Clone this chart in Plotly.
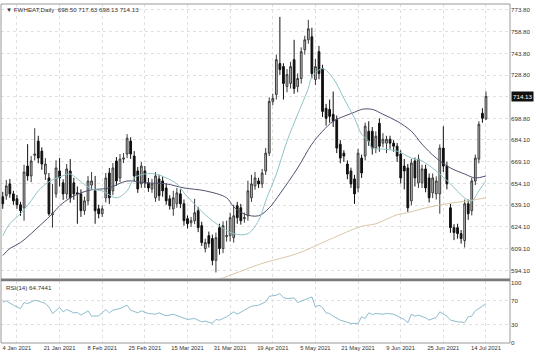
import plotly.graph_objects as go

# ---------------- data ----------------
bars = list(range(-4, 133))  # trading-day index, 0 = 4 Jan 2021

opens = [644.9, 645.6, 653.8, 646.9, 643.5, 639.4, 637.3, 666.1, 659.3, 673.5,
         683.3, 676.4, 660.6, 657.9, 632.5, 646.9, 662.7, 654.5, 646.9, 662.7,
         654.5, 647.6, 646.9, 635.3, 642.1, 653.0, 649.0, 636.6, 633.2, 644.2,
         661.3, 649.0, 669.6, 657.9, 670.9, 674.4, 683.3, 673.0, 662.7, 653.8,
         662.7, 654.5, 650.3, 644.2, 657.2, 655.8, 651.0, 643.5, 636.6, 640.1,
         646.9, 640.1, 629.8, 627.0, 628.4, 635.3, 625.0, 609.2, 618.1, 616.1,
         601.0, 623.6, 609.2, 617.4, 618.1, 616.7, 638.7, 637.3, 629.8, 631.8,
         644.2, 652.4, 655.8, 653.8, 662.7, 675.0, 710.7, 715.5, 736.8, 734.7,
         721.0, 723.1, 739.5, 721.0, 726.5, 746.4, 753.2, 755.3, 725.8, 745.0,
         733.3, 705.9, 705.2, 701.8, 698.4, 681.2, 675.0, 667.5, 662.7, 657.2,
         651.0, 671.6, 673.0, 690.1, 690.1, 678.5, 695.6, 681.9, 681.9, 684.6,
         681.9, 679.8, 674.4, 666.1, 664.8, 642.1, 669.6, 654.5, 654.5, 664.1,
         657.9, 647.6, 646.9, 646.9, 678.5, 666.1, 637.3, 623.6, 623.6, 619.5,
         614.7, 640.1, 635.3, 655.8, 670.9, 702.5, 698.50]
highs = [648.3, 656.5, 657.2, 649.0, 646.2, 641.4, 667.0, 681.2, 673.0, 692.2,
         687.0, 679.0, 671.6, 661.3, 653.8, 670.0, 671.6, 657.0, 667.5, 670.9,
         658.0, 652.0, 650.0, 645.0, 659.3, 662.0, 659.3, 639.4, 639.0, 661.3,
         664.8, 668.2, 672.3, 674.4, 675.0, 688.1, 686.0, 676.4, 665.5, 668.9,
         666.1, 657.9, 657.2, 662.0, 660.0, 659.0, 654.0, 646.0, 649.0, 651.0,
         650.0, 643.0, 632.0, 631.0, 643.5, 638.0, 627.7, 616.0, 620.9, 618.8,
         620.2, 626.3, 628.0, 628.4, 633.9, 639.4, 641.4, 640.0, 634.0, 656.0,
         660.0, 662.0, 658.0, 664.1, 678.5, 713.5, 716.0, 743.0, 769.0, 737.0,
         733.0, 738.0, 753.2, 730.0, 748.0, 756.0, 767.0, 761.5, 740.0, 749.0,
         736.0, 709.0, 712.0, 717.5, 701.0, 684.0, 677.0, 670.0, 665.0, 660.0,
         678.0, 674.0, 696.0, 697.0, 693.0, 690.0, 699.0, 688.8, 687.0, 687.0,
         684.0, 682.0, 677.0, 671.0, 667.5, 671.0, 672.0, 674.0, 667.0, 667.0,
         661.0, 661.0, 659.0, 681.0, 693.6, 669.0, 640.0, 626.0, 626.3, 622.0,
         643.0, 643.0, 658.0, 674.0, 697.0, 706.0, 717.63]
lows = [636.6, 642.8, 644.2, 639.4, 636.6, 631.8, 628.4, 656.0, 655.0, 670.0,
        668.0, 663.5, 656.5, 631.8, 623.6, 644.2, 652.0, 642.8, 643.5, 640.8,
        642.8, 626.3, 631.0, 632.5, 639.0, 650.0, 626.3, 630.0, 631.0, 641.0,
        640.0, 646.0, 652.4, 655.0, 668.2, 671.6, 671.0, 655.8, 647.6, 651.0,
        651.0, 648.3, 647.6, 641.4, 642.1, 644.9, 639.4, 636.0, 631.8, 637.3,
        637.0, 625.0, 623.0, 624.0, 626.0, 620.5, 611.0, 606.5, 609.9, 597.6,
        592.7, 605.0, 606.0, 614.0, 614.0, 613.3, 626.3, 625.7, 627.0, 628.4,
        641.4, 649.7, 651.0, 651.0, 660.0, 673.0, 708.0, 712.0, 729.0, 712.0,
        717.0, 719.6, 716.0, 717.0, 723.0, 743.0, 750.5, 726.5, 722.0, 726.0,
        700.0, 694.0, 696.0, 693.0, 675.0, 668.0, 669.0, 657.0, 651.0, 640.0,
        648.0, 657.9, 670.0, 680.0, 674.0, 675.0, 676.0, 679.0, 675.0, 678.0,
        676.0, 669.0, 654.0, 650.0, 634.5, 639.0, 652.0, 651.0, 651.0, 648.0,
        641.0, 644.0, 643.0, 633.2, 662.0, 650.0, 620.0, 615.0, 616.0, 612.6,
        609.9, 629.0, 632.0, 653.0, 668.0, 696.0, 698.13]
closes = [640.1, 652.4, 646.9, 642.1, 639.4, 635.3, 662.0, 659.3, 669.6, 674.4,
          671.6, 667.5, 667.5, 633.2, 633.2, 664.8, 657.9, 646.9, 664.1, 644.2,
          646.9, 646.9, 635.3, 642.1, 655.8, 655.8, 635.3, 633.2, 636.6, 657.9,
          644.2, 664.8, 655.8, 670.9, 671.6, 685.3, 674.4, 659.3, 650.3, 666.1,
          654.5, 651.0, 653.8, 659.3, 645.6, 649.0, 642.1, 638.7, 644.2, 647.6,
          640.1, 628.4, 626.3, 628.4, 633.9, 623.6, 613.3, 613.3, 612.6, 601.0,
          616.7, 609.2, 625.0, 618.1, 630.5, 631.8, 630.5, 628.4, 630.5, 649.0,
          653.8, 657.9, 653.8, 661.3, 675.0, 710.7, 712.8, 739.5, 732.7, 723.1,
          729.2, 734.7, 719.6, 726.5, 745.0, 753.2, 760.8, 729.9, 734.7, 729.9,
          703.8, 699.1, 700.4, 697.0, 678.5, 671.6, 673.0, 660.6, 653.8, 646.9,
          675.0, 661.3, 693.6, 683.3, 678.5, 686.7, 679.8, 684.6, 684.6, 681.9,
          679.8, 673.0, 657.9, 662.7, 637.3, 668.2, 657.9, 670.9, 664.1, 651.0,
          644.2, 657.9, 655.8, 678.5, 666.1, 653.8, 623.6, 620.2, 619.5, 616.1,
          640.1, 633.2, 655.8, 671.6, 694.9, 699.1, 714.13]

# moving averages (bar index, value)
ma_fast_bar = [-4, -2, 1, 4, 6, 9, 12, 15, 17, 21, 24, 28, 31, 33, 36, 39, 42, 45, 47, 51,
               55, 61, 65, 68, 70, 73, 76, 79, 82, 83, 86, 89, 92, 95, 97, 99, 100, 103,
               107, 111, 114, 118, 122, 126, 128, 130, 132]
ma_fast_val = [618.1, 626.3, 633.2, 642.1, 649.0, 655.2, 658.6, 660.6, 657.2, 650.3, 649.0,
               644.2, 649.0, 657.9, 660.6, 660.6, 657.9, 653.8, 647.6, 637.3, 628.4, 619.5,
               619.5, 628.4, 642.1, 660.6, 683.3, 701.8, 719.6, 727.5, 733.3, 726.5, 712.8,
               699.1, 688.1, 683.3, 678.5, 677.8, 676.4, 671.6, 669.6, 662.7, 653.8, 644.2,
               642.1, 649.0, 655.8]
ma_slow_bar = [-4, -2, 1, 4, 7, 10, 12, 15, 18, 21, 24, 26, 31, 36, 42, 47, 53, 59, 61, 64,
               68, 71, 74, 79, 83, 86, 89, 92, 95, 97, 100, 103, 107, 111, 114, 118, 122,
               126, 129, 132]
ma_slow_val = [604.4, 609.2, 613.3, 619.5, 626.3, 633.2, 638.7, 644.2, 647.6, 649.7, 650.3,
               651.0, 655.8, 654.5, 653.8, 651.0, 649.0, 644.2, 638.0, 633.0, 631.8, 637.3,
               646.9, 664.8, 681.2, 690.1, 697.0, 700.4, 703.2, 705.2, 705.2, 701.8, 697.0,
               690.1, 681.2, 671.6, 664.8, 660.6, 657.9, 659.3]
ma_long_bar = [54, 57, 69, 79, 88, 97, 101, 107, 110, 114, 121, 127, 132]
ma_long_val = [586.0, 588.1, 598.9, 605.8, 615.5, 624.5, 626.3, 632.5, 633.9, 636.6, 640.1,
               642.1, 644.2]

rsi_bar = [-4, -3, -1, 1, 2, 3, 5, 6, 8, 9, 10, 11, 12, 13, 14, 16, 17, 18, 20, 21, 23, 24,
           25, 26, 27, 29, 31, 32, 34, 35, 37, 39, 40, 42, 44, 46, 48, 50, 52, 53, 55, 56,
           57, 58, 59, 61, 62, 64, 66, 68, 70, 71, 73, 74, 75, 76, 78, 79, 80, 82, 83, 84,
           85, 86, 87, 88, 89, 91, 93, 94, 96, 97, 98, 99, 100, 101, 103, 104, 106, 109,
           110, 111, 112, 113, 115, 116, 118, 119, 121, 122, 124, 126, 127, 128, 129, 131, 132]
rsi_val = [67.7, 69.3, 62.3, 56.8, 66.7, 65.0, 70.5, 69.3, 65.0, 59.5, 48.6, 54.1, 58.5,
           51.4, 55.2, 49.7, 50.3, 45.9, 53.0, 44.3, 44.8, 49.7, 55.2, 49.7, 54.1, 56.9,
           62.3, 54.1, 49.7, 53.0, 48.6, 47.5, 49.7, 44.8, 47.5, 43.1, 38.8, 40.4, 34.9,
           36.1, 32.3, 38.8, 37.7, 40.4, 43.1, 51.4, 47.5, 54.1, 60.7, 62.3, 67.7, 77.0,
           78.7, 81.4, 74.9, 73.3, 74.3, 66.7, 69.3, 73.3, 75.9, 59.5, 62.3, 58.5, 49.7,
           48.6, 44.3, 37.7, 34.9, 32.3, 32.3, 43.1, 40.4, 49.7, 47.0, 48.6, 47.5, 48.6,
           47.5, 38.8, 33.3, 47.5, 44.3, 45.9, 41.5, 37.7, 42.1, 51.4, 44.3, 37.7, 34.9,
           33.9, 43.1, 44.3, 53.0, 60.7, 64.7441]

date_tick_bars = [0, 12, 24, 36, 48, 60, 72, 84, 96, 108, 120, 132]
date_tick_text = ["4 Jan 2021", "21 Jan 2021", "8 Feb 2021", "25 Feb 2021", "15 Mar 2021",
                  "31 Mar 2021", "19 Apr 2021", "5 May 2021", "21 May 2021", "9 Jun 2021",
                  "25 Jun 2021", "14 Jul 2021"]
price_tick_vals = [773.8, 758.8, 743.8, 728.8, 713.8, 698.8, 684.1, 669.1, 654.1, 639.1,
                   624.1, 609.1, 594.1]
price_tick_text = ["773.80", "758.80", "743.80", "728.80", "", "698.80", "684.10", "669.10",
                   "654.10", "639.10", "624.10", "609.10", "594.10"]
rsi_tick_vals = [0, 30, 70, 100]
rsi_tick_text = ["0", "30", "70", "100"]

title_text = "\u25bc FWHEAT,Daily  698.50 717.63 698.13 714.13"
rsi_label = "RSI(14) 64.7441"
last_price = 714.13

# ---------------- figure ----------------
FONT = "Liberation Sans, Arial, sans-serif"
GRID = "#e0e0e0"

fig = go.Figure()
fig.add_trace(go.Candlestick(
    x=bars, open=opens, high=highs, low=lows, close=closes,
    increasing=dict(fillcolor="#c6c6c6", line=dict(color="#3a3a3a", width=1)),
    decreasing=dict(fillcolor="#111111", line=dict(color="#111111", width=1)),
    whiskerwidth=0, xaxis="x", yaxis="y", showlegend=False, hoverinfo="skip"))
fig.add_trace(go.Scatter(x=ma_long_bar, y=ma_long_val, mode="lines",
                         line=dict(color="#d9c7a6", width=1, shape="spline"),
                         xaxis="x", yaxis="y", showlegend=False))
fig.add_trace(go.Scatter(x=ma_slow_bar, y=ma_slow_val, mode="lines",
                         line=dict(color="#50506e", width=1, shape="spline"),
                         xaxis="x", yaxis="y", showlegend=False))
fig.add_trace(go.Scatter(x=ma_fast_bar, y=ma_fast_val, mode="lines",
                         line=dict(color="#8ec3c6", width=1, shape="spline"),
                         xaxis="x", yaxis="y", showlegend=False))
fig.add_trace(go.Scatter(x=rsi_bar, y=rsi_val, mode="lines",
                         line=dict(color="#8fbccb", width=1),
                         xaxis="x2", yaxis="y2", showlegend=False))

xr = [-4.49, 138.76]
main_dom = [0.1906, 1.0]
rsi_dom = [0.0, 0.1818]

fig.update_layout(
    width=536, height=357,
    margin=dict(l=1, r=26, t=2, b=14),
    paper_bgcolor="white", plot_bgcolor="white",
    font=dict(family=FONT, color="#333333", size=6),
    xaxis=dict(domain=[0, 1], range=xr, anchor="y", tickvals=date_tick_bars,
               showticklabels=False, showgrid=True, gridcolor=GRID, griddash="dot",
               gridwidth=1, zeroline=False, rangeslider=dict(visible=False), ticks=""),
    xaxis2=dict(domain=[0, 1], range=xr, anchor="y2", matches="x",
                tickvals=date_tick_bars, ticktext=date_tick_text,
                tickfont=dict(size=5.8, color="#333333"),
                showgrid=True, gridcolor=GRID, griddash="dot", zeroline=False, ticks=""),
    yaxis=dict(domain=main_dom, range=[588.6, 777.9], side="right", anchor="x",
               tickvals=price_tick_vals, ticktext=price_tick_text,
               tickfont=dict(size=6.2, color="#333333"),
               showgrid=True, gridcolor=GRID, griddash="dot", zeroline=False, ticks=""),
    yaxis2=dict(domain=rsi_dom, range=[0, 101.6], side="right", anchor="x2",
                tickvals=rsi_tick_vals, ticktext=rsi_tick_text,
                tickfont=dict(size=6.2, color="#333333"),
                showgrid=True, gridcolor=GRID, griddash="dot", zeroline=False, ticks=""),
    shapes=[
        dict(type="rect", xref="paper", yref="paper", x0=0, x1=1, y0=0, y1=1,
             line=dict(color="#9a9a9a", width=1)),
        dict(type="rect", xref="paper", yref="paper", x0=0, x1=1,
             y0=rsi_dom[1], y1=main_dom[0], fillcolor="#7a7a7a",
             line=dict(width=0)),
    ],
    annotations=[
        dict(xref="paper", yref="paper", x=0, y=1, xanchor="left", yanchor="top",
             xshift=3, yshift=0, text=title_text, showarrow=False,
             font=dict(size=6.2, color="#333333")),
        dict(xref="paper", yref="paper", x=0, y=rsi_dom[1], xanchor="left",
             yanchor="top", xshift=3, yshift=-1, text=rsi_label, showarrow=False,
             font=dict(size=6.2, color="#333333")),
        dict(xref="paper", yref="y", x=1, y=last_price, xanchor="left",
             yanchor="middle", xshift=1, text=str(last_price), showarrow=False,
             bgcolor="#111111", borderpad=1,
             font=dict(size=6.2, color="white")),
    ],
)

fig.write_html("out.html", config={"displayModeBar": False},
               post_script="document.body.style.margin='0';document.body.style.padding='0';")
